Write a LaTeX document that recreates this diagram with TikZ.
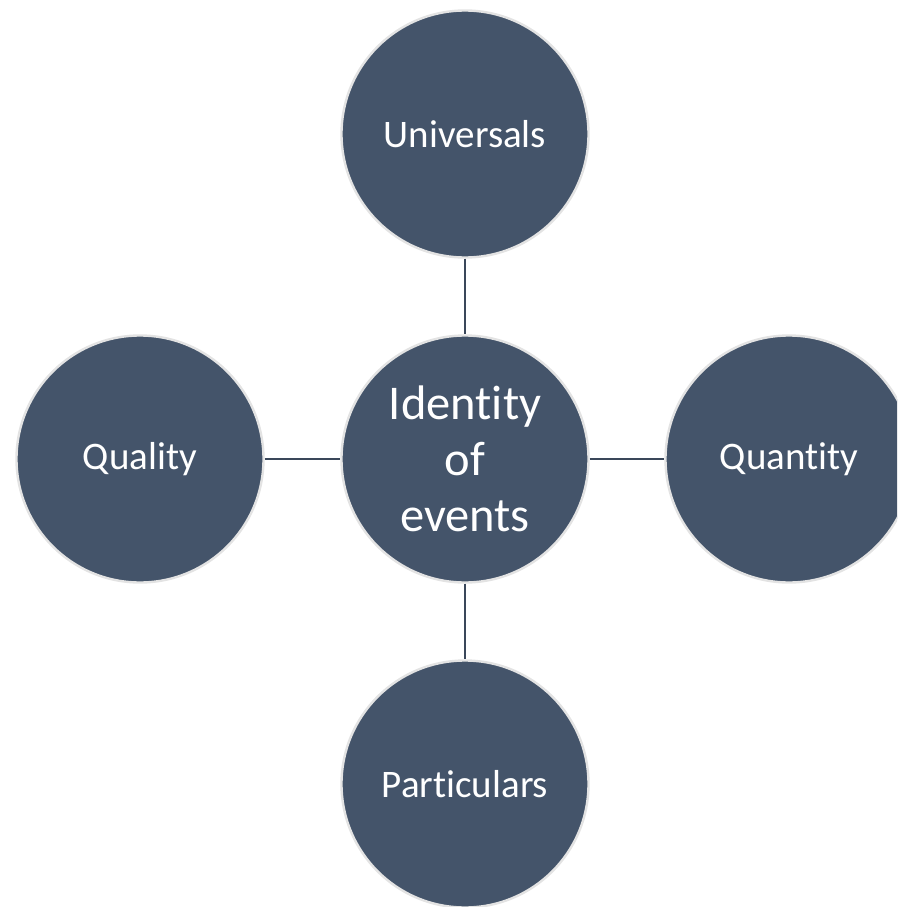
\documentclass[tikz,border=0pt]{standalone}
\usepackage{fontspec}
\setmainfont{Carlito}[RawFeature={-liga;-clig;-dlig;-calt}]
\definecolor{bubble}{HTML}{44546A}
\definecolor{rim}{HTML}{E3E3E3}
\newcommand\brk{\kern0pt }
\begin{document}
\begin{tikzpicture}[x=1pt,y=-1pt,
  bub/.style={circle,fill=bubble,draw=rim,line width=2.4pt,minimum size=247pt,inner sep=0pt,text=white,align=center,font=\fontsize{39}{46}\selectfont},
  hub/.style={bub,font=\fontsize{48.5}{56}\selectfont},
  link/.style={draw=bubble!85!black,line width=2.6pt}]
\useasboundingbox (0,0) rectangle (897,907);
\begin{scope}
\clip (0,0) rectangle (897,907);
\node[hub] (c) at (465,459) {Ident\brk it\brk y\\of\\events};
\node[bub] (t) at (465,134) {Universals};
\node[bub] (b) at (465,784) {Particulars};
\node[bub] (l) at (140,459) {Qualit\brk y};
\node[bub] (r) at (789,459) {Quant\brk it\brk y};
\draw[link] (t) -- (c);
\draw[link] (c) -- (b);
\draw[link] (l) -- (c);
\draw[link] (c) -- (r);
\end{scope}
\end{tikzpicture}
\end{document}
